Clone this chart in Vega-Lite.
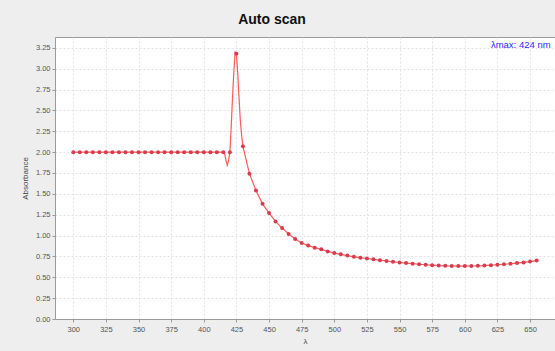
{
  "$schema": "https://vega.github.io/schema/vega-lite/v6.json",
  "autosize": {"type": "none"},
  "padding": {"left": 55, "top": 37, "right": 0, "bottom": 32},
  "width": 500,
  "height": 282,
  "background": "#eeeeee",
  "title": {"text": "Auto scan", "font": "Liberation Sans", "fontSize": 14, "fontWeight": "bold", "color": "#111111", "offset": 10, "dx": -33, "anchor": "middle"},
  "config": {
    "view": {"fill": "#ffffff", "stroke": "#9a9a9a", "strokeWidth": 1},
    "axis": {"labelFont": "Liberation Sans", "labelFontSize": 7.5, "labelColor": "#555555", "titleFont": "Liberation Sans", "titleFontSize": 8, "titleColor": "#444444", "titleFontWeight": "normal", "domainColor": "#9a9a9a", "tickColor": "#9a9a9a", "tickSize": 3, "gridColor": "#e2e2e2", "gridDash": [2, 2], "gridWidth": 1}
  },
  "datasets": {
    "scan": [
      {"lam": 300, "abs": 2.0, "m": 1}, {"lam": 305, "abs": 2.0, "m": 1}, {"lam": 310, "abs": 2.0, "m": 1}, {"lam": 315, "abs": 2.0, "m": 1},
      {"lam": 320, "abs": 2.0, "m": 1}, {"lam": 325, "abs": 2.0, "m": 1}, {"lam": 330, "abs": 2.0, "m": 1}, {"lam": 335, "abs": 2.0, "m": 1},
      {"lam": 340, "abs": 2.0, "m": 1}, {"lam": 345, "abs": 2.0, "m": 1}, {"lam": 350, "abs": 2.0, "m": 1}, {"lam": 355, "abs": 2.0, "m": 1},
      {"lam": 360, "abs": 2.0, "m": 1}, {"lam": 365, "abs": 2.0, "m": 1}, {"lam": 370, "abs": 2.0, "m": 1}, {"lam": 375, "abs": 2.0, "m": 1},
      {"lam": 380, "abs": 2.0, "m": 1}, {"lam": 385, "abs": 2.0, "m": 1}, {"lam": 390, "abs": 2.0, "m": 1}, {"lam": 395, "abs": 2.0, "m": 1},
      {"lam": 400, "abs": 2.0, "m": 1}, {"lam": 405, "abs": 2.0, "m": 1}, {"lam": 410, "abs": 2.0, "m": 1}, {"lam": 415, "abs": 2.0, "m": 1},
      {"lam": 416, "abs": 1.98, "m": 0}, {"lam": 417, "abs": 1.9, "m": 0}, {"lam": 418, "abs": 1.84, "m": 0}, {"lam": 419, "abs": 1.9, "m": 0},
      {"lam": 420, "abs": 2.0, "m": 1}, {"lam": 421, "abs": 2.3, "m": 0}, {"lam": 422, "abs": 2.65, "m": 0}, {"lam": 423, "abs": 2.95, "m": 0},
      {"lam": 424, "abs": 3.2, "m": 0}, {"lam": 425, "abs": 3.18, "m": 1}, {"lam": 426, "abs": 2.95, "m": 0}, {"lam": 427, "abs": 2.65, "m": 0},
      {"lam": 428, "abs": 2.38, "m": 0}, {"lam": 429, "abs": 2.2, "m": 0}, {"lam": 430, "abs": 2.07, "m": 1},
      {"lam": 435, "abs": 1.74, "m": 1}, {"lam": 440, "abs": 1.54, "m": 1}, {"lam": 445, "abs": 1.38, "m": 1}, {"lam": 450, "abs": 1.27, "m": 1},
      {"lam": 455, "abs": 1.17, "m": 1}, {"lam": 460, "abs": 1.09, "m": 1}, {"lam": 465, "abs": 1.02, "m": 1}, {"lam": 470, "abs": 0.96, "m": 1},
      {"lam": 475, "abs": 0.91, "m": 1}, {"lam": 480, "abs": 0.88, "m": 1}, {"lam": 485, "abs": 0.855, "m": 1}, {"lam": 490, "abs": 0.835, "m": 1},
      {"lam": 495, "abs": 0.81, "m": 1}, {"lam": 500, "abs": 0.79, "m": 1}, {"lam": 505, "abs": 0.775, "m": 1}, {"lam": 510, "abs": 0.76, "m": 1},
      {"lam": 515, "abs": 0.745, "m": 1}, {"lam": 520, "abs": 0.735, "m": 1}, {"lam": 525, "abs": 0.725, "m": 1}, {"lam": 530, "abs": 0.715, "m": 1},
      {"lam": 535, "abs": 0.705, "m": 1}, {"lam": 540, "abs": 0.695, "m": 1}, {"lam": 545, "abs": 0.685, "m": 1}, {"lam": 550, "abs": 0.677, "m": 1},
      {"lam": 555, "abs": 0.67, "m": 1}, {"lam": 560, "abs": 0.663, "m": 1}, {"lam": 565, "abs": 0.656, "m": 1}, {"lam": 570, "abs": 0.65, "m": 1},
      {"lam": 575, "abs": 0.645, "m": 1}, {"lam": 580, "abs": 0.64, "m": 1}, {"lam": 585, "abs": 0.637, "m": 1}, {"lam": 590, "abs": 0.635, "m": 1},
      {"lam": 595, "abs": 0.634, "m": 1}, {"lam": 600, "abs": 0.634, "m": 1}, {"lam": 605, "abs": 0.635, "m": 1}, {"lam": 610, "abs": 0.637, "m": 1},
      {"lam": 615, "abs": 0.64, "m": 1}, {"lam": 620, "abs": 0.645, "m": 1}, {"lam": 625, "abs": 0.65, "m": 1}, {"lam": 630, "abs": 0.656, "m": 1},
      {"lam": 635, "abs": 0.663, "m": 1}, {"lam": 640, "abs": 0.67, "m": 1}, {"lam": 645, "abs": 0.678, "m": 1}, {"lam": 650, "abs": 0.688, "m": 1},
      {"lam": 655, "abs": 0.7, "m": 1}
    ],
    "note": [{"lam": 620, "abs": 3.28, "label": "λmax: 424 nm"}]
  },
  "encoding": {
    "x": {"field": "lam", "type": "quantitative", "title": "λ",
      "scale": {"domain": [286, 669.1], "nice": false, "zero": false},
      "axis": {"values": [300, 325, 350, 375, 400, 425, 450, 475, 500, 525, 550, 575, 600, 625, 650], "labelPadding": 3, "titlePadding": 5}},
    "y": {"field": "abs", "type": "quantitative", "title": "Absorbance",
      "scale": {"domain": [0, 3.38], "nice": false, "zero": false},
      "axis": {"values": [0, 0.25, 0.5, 0.75, 1, 1.25, 1.5, 1.75, 2, 2.25, 2.5, 2.75, 3, 3.25], "format": ".2f", "labelPadding": 2, "titlePadding": 6}}
  },
  "layer": [
    {"data": {"name": "scan"}, "mark": {"type": "line", "color": "#ff5a5a", "strokeWidth": 1.2, "clip": true}},
    {"data": {"name": "scan"}, "transform": [{"filter": "datum.m == 1"}],
      "mark": {"type": "point", "shape": "circle", "filled": true, "size": 16, "color": "#d63c4e", "opacity": 1, "clip": true}},
    {"data": {"name": "note"}, "mark": {"type": "text", "align": "left", "baseline": "middle", "font": "Liberation Sans", "fontSize": 9.5, "color": "#2a2aff"},
      "encoding": {"text": {"field": "label"}}}
  ]
}
